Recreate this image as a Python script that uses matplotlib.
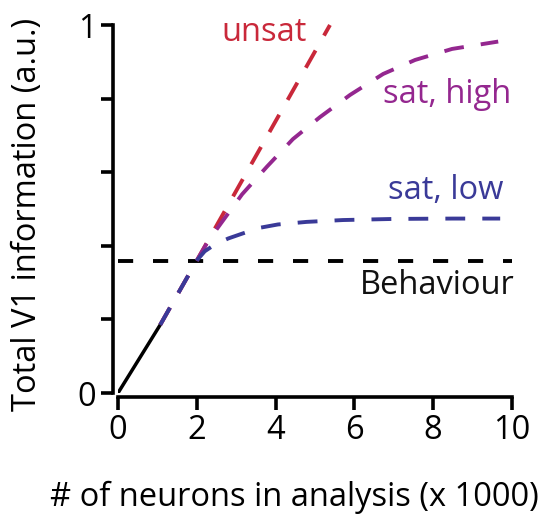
import matplotlib
matplotlib.use('Agg')
import matplotlib.pyplot as plt

plt.rcParams['font.family'] = ['Open Sans', 'DejaVu Sans']

# information vs population size (x 1000 neurons), arbitrary units
measured_x = [0.0, 1.07]
measured_y = [0.0, 0.185]

unsat_x = [1.07, 2.0, 5.38]
unsat_y = [0.185, 0.36, 1.0]

high_x = [1.07, 2.0, 2.3, 2.64, 3.15, 3.78, 4.44, 5.13, 5.89, 6.73, 7.54, 8.48, 9.65]
high_y = [0.185, 0.36, 0.415, 0.465, 0.54, 0.615, 0.69, 0.75, 0.81, 0.867, 0.905, 0.935, 0.955]

low_x = [1.07, 2.0, 2.2, 2.45, 2.8, 3.15, 3.6, 4.06, 4.79, 5.71, 7.0, 8.5, 9.7]
low_y = [0.185, 0.36, 0.385, 0.403, 0.42, 0.433, 0.449, 0.458, 0.465, 0.47, 0.473, 0.474, 0.474]

behaviour_x = [0.0, 10.0]
behaviour_y = [0.36, 0.36]

xticks = [0, 2, 4, 6, 8, 10]
yticks = [0, 0.2, 0.4, 0.6, 0.8, 1.0]
ytick_labels = ['0', '', '', '', '', '1']

RED = '#c9283a'
PURPLE = '#94278f'
BLUE = '#3a3a98'

W, H = 539, 518
fig = plt.figure(figsize=(W / 100, H / 100), dpi=100)
ax = fig.add_axes([118 / W, (H - 393) / H, (512 - 118) / W, (393 - 25) / H])
ax.set_xlim(0, 10)
ax.set_ylim(0, 1)

lw = 2.8
ax.plot(measured_x, measured_y, color='black', lw=lw - 0.3, solid_capstyle='butt', zorder=4)
for xs, ys, c in [(unsat_x, unsat_y, RED), (high_x, high_y, PURPLE), (low_x, low_y, BLUE)]:
    ax.plot(xs, ys, color=c, lw=lw, dashes=(5.1, 4.4), dash_capstyle='butt',
            clip_on=False, zorder=3)
ax.plot(behaviour_x, behaviour_y, color='black', lw=lw, dashes=(3.9, 5.1),
        dash_capstyle='butt', clip_on=False, zorder=2)

fs = 23.5
ax.text(3.7, 0.98, 'unsat', color=RED, fontsize=fs, ha='center', va='center')
ax.text(8.35, 0.81, 'sat, high', color=PURPLE, fontsize=fs, ha='center', va='center')
ax.text(8.32, 0.55, 'sat, low', color=BLUE, fontsize=fs, ha='center', va='center')
ax.text(8.1, 0.293, 'Behaviour', color='#111111', fontsize=fs, ha='center', va='center')

for side in ['top', 'right']:
    ax.spines[side].set_visible(False)
ax.spines['left'].set_position(('outward', 3.5))
ax.spines['bottom'].set_position(('outward', 3))
for side in ['left', 'bottom']:
    ax.spines[side].set_linewidth(2.6)

ax.set_xticks(xticks)
ax.set_yticks(yticks)
ax.set_yticklabels(ytick_labels)
ax.tick_params(axis='both', length=9, width=2.6, labelsize=fs, pad=3)

fig.text(294 / W, 1 - 497 / H, '# of neurons in analysis (x 1000)', fontsize=fs,
         ha='center', va='center')
fig.text(28 / W, 1 - 214 / H, 'Total V1 information (a.u.)', fontsize=fs,
         ha='center', va='center', rotation=90)

fig.savefig('out.png', dpi=100)
